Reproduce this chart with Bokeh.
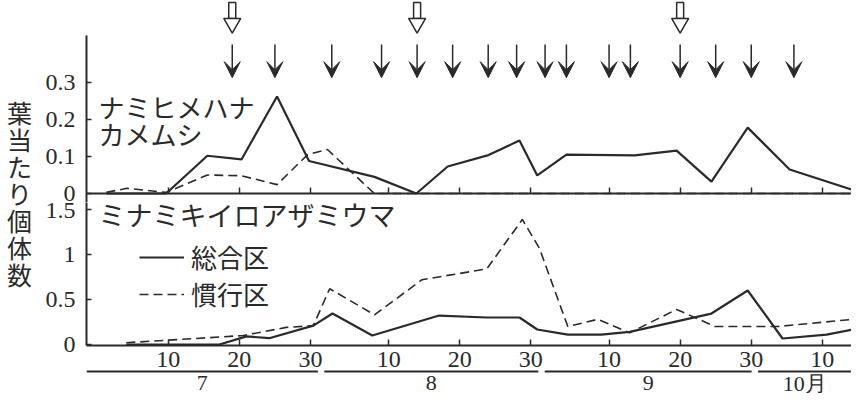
from bokeh.plotting import figure
from bokeh.layouts import column, row
from bokeh.models import (ColumnDataSource, Range1d, FixedTicker, Label, Arrow,
                          VeeHead, Legend, LegendItem)
from bokeh.core.properties import value
from bokeh.embed import file_html
from bokeh.resources import INLINE

# ---------------- data (x = day counted from 1 July: 1 Jul = 1, 1 Aug = 32, 1 Sep = 63, 1 Oct = 93)
tick_days = [10, 20, 30, 41, 51, 61, 72, 82, 92, 102]
tick_labels = ["10", "20", "30", "10", "20", "30", "10", "20", "30", "10"]
month_names = ["7", "8", "9", "10月"]
month_first_day = [1, 32, 63, 93]
month_lengths = [31, 31, 30, 31]

spray_days = [19, 25, 33, 40, 45, 50, 55, 59, 63, 66, 72, 75, 82, 87, 92, 98]   # filled arrows
release_days = [19, 45, 82]                                                      # open arrows

y_title = "葉当たり個体数"
top_title = ["ナミヒメハナ", "カメムシ"]
bottom_title = "ミナミキイロアザミウマ"
legend_labels = ["総合区", "慣行区"]

# ナミヒメハナカメムシ (top panel)
bug_ipm_day = [1.3, 9.7, 15.5, 20.3, 25.3, 29.8, 39.0, 44.9, 49.3, 54.9, 59.4, 61.9,
               66.0, 75.6, 81.5, 86.4, 91.5, 97.4, 107.0]
bug_ipm_val = [0.0, 0.0, 0.102, 0.092, 0.262, 0.088, 0.045, 0.0, 0.073, 0.103, 0.143, 0.049,
               0.105, 0.103, 0.116, 0.032, 0.178, 0.065, 0.005]
bug_conv_day = [1.3, 4.2, 9.7, 15.5, 20.3, 25.3, 29.6, 32.4, 35.2, 39.0, 107.0]
bug_conv_val = [0.003, 0.014, 0.003, 0.050, 0.048, 0.024, 0.105, 0.119, 0.068, 0.0, 0.0]

# ミナミキイロアザミウマ (bottom panel)
thr_ipm_day = [4.1, 17.2, 21.0, 24.2, 30.4, 33.1, 38.7, 48.1, 54.8, 59.4, 61.9, 66.2,
               70.9, 74.9, 86.4, 91.5, 96.4, 102.6, 106.3]
thr_ipm_val = [0.0, 0.0, 0.09, 0.07, 0.21, 0.344, 0.10, 0.322, 0.30, 0.30, 0.167, 0.11,
               0.11, 0.14, 0.344, 0.60, 0.067, 0.11, 0.167]
thr_conv_day = [4.1, 18.6, 20.5, 26.6, 30.4, 32.7, 39.0, 45.7, 54.8, 59.8, 62.2, 66.2,
                70.4, 74.9, 81.5, 86.9, 95.7, 106.3]
thr_conv_val = [0.02, 0.09, 0.10, 0.19, 0.21, 0.62, 0.33, 0.72, 0.84, 1.39, 1.07, 0.20,
                0.28, 0.13, 0.39, 0.20, 0.20, 0.28]

# ---------------- style
INK = "#2a2a2a"
NUM_FONT = "Liberation Serif"
JP_FONT = "Noto Sans CJK JP"
X_START, X_END = -1.5, 106.1
FRAME_W = 765
STRIP_W = 40
LEFT = 46
TOTAL_H = 395
DASH = "9 5"

x_range = Range1d(X_START, X_END)


def make_fig(frame_h, y_range, axes=True, frame_w=FRAME_W, left=LEFT, xr=None):
    kw = {}
    if not axes:
        kw = dict(x_axis_type=None, y_axis_type=None)
    p = figure(frame_width=frame_w, frame_height=frame_h, x_range=xr or x_range, y_range=y_range,
               output_backend="svg", toolbar_location=None,
               min_border_left=left, min_border_right=0, min_border_top=0, min_border_bottom=0,
               outline_line_color=None, background_fill_color="white",
               border_fill_color="white", **kw)
    p.grid.visible = False
    return p


def style_axes(p, yticks, show_xlabels):
    ax = p.xaxis[0]
    ax.ticker = FixedTicker(ticks=tick_days)
    ax.axis_line_color = INK
    ax.axis_line_width = 2
    ax.major_tick_line_color = INK
    ax.major_tick_line_width = 1.5
    ax.major_tick_in = 6
    ax.major_tick_out = 0
    ax.minor_tick_line_color = None
    if show_xlabels:
        ax.major_label_overrides = dict(zip(tick_days, tick_labels))
        ax.major_label_text_font = NUM_FONT
        ax.major_label_text_font_size = "24px"
        ax.major_label_text_color = INK
        ax.major_label_standoff = 6
    else:
        ax.fixed_location = 0
        ax.major_label_text_color = None
        ax.major_label_text_font_size = "1px"
        ax.major_label_standoff = 0
    ay = p.yaxis[0]
    ay.ticker = FixedTicker(ticks=yticks)
    ay.major_label_overrides = {0: "0"}
    ay.axis_line_color = INK
    ay.axis_line_width = 2
    ay.major_tick_line_color = INK
    ay.major_tick_line_width = 1.5
    ay.major_tick_in = 5
    ay.major_tick_out = 0
    ay.minor_tick_line_color = None
    ay.major_label_text_font = NUM_FONT
    ay.major_label_text_font_size = "24px"
    ay.major_label_text_color = INK
    ay.major_label_standoff = 11


def add_label(p, x, y, text, size):
    p.add_layout(Label(x=x, y=y, text=text, text_font=JP_FONT, text_font_size=size,
                       text_color=INK, text_align="left", text_baseline="middle"))


# ---------------- vertical y title strip (pixel coordinates from the top)
pl = make_fig(TOTAL_H, Range1d(TOTAL_H, 0), axes=False, frame_w=STRIP_W, left=0,
              xr=Range1d(0, STRIP_W))
chars = list(y_title)
pl.text(x=[19] * len(chars), y=[111 + 27 * i for i in range(len(chars))], text=chars,
        text_font=value(JP_FONT), text_font_size="25px", text_color=INK,
        text_align="center", text_baseline="middle")

# ---------------- arrow strip (open arrows)
pa = make_fig(35, Range1d(0, 35), axes=False)
pa.rect(x=release_days, y=25, width=7, height=16, width_units="screen", height_units="screen",
        fill_color="white", line_color=INK, line_width=1.5)
pa.scatter(x=release_days, y=12.2, marker="inverted_triangle", size=17,
           fill_color="white", line_color=INK, line_width=1.5)

# ---------------- top panel (frame reaches a little below zero so the "0" label is not cut)
pt = make_fig(167, Range1d(-0.0243, 0.427))
style_axes(pt, [0, 0.1, 0.2, 0.3], False)
pt.line(bug_conv_day, bug_conv_val, line_color=INK, line_width=1.6, line_dash=DASH)
pt.line(bug_ipm_day, bug_ipm_val, line_color=INK, line_width=2.2)
spray_src = ColumnDataSource(dict(x=spray_days, y0=[0.403] * len(spray_days),
                                  y1=[0.313] * len(spray_days)))
pt.add_layout(Arrow(x_start="x", y_start="y0", x_end="x", y_end="y1", source=spray_src,
                    line_color=INK, line_width=1.5,
                    end=VeeHead(size=16, fill_color=INK, line_color=INK, line_width=1)))
add_label(pt, 0.2, 0.235, top_title[0], "26px")
add_label(pt, 0.2, 0.162, top_title[1], "26px")

# ---------------- bottom panel
pb = make_fig(143, Range1d(-0.011, 1.578))
style_axes(pb, [0, 0.5, 1.0, 1.5], True)
r_conv = pb.line(thr_conv_day, thr_conv_val, line_color=INK, line_width=1.6, line_dash=DASH)
r_ipm = pb.line(thr_ipm_day, thr_ipm_val, line_color=INK, line_width=2.2)
add_label(pb, 0.2, 1.444, bottom_title, "27px")
legend = Legend(items=[LegendItem(label=legend_labels[0], renderers=[r_ipm]),
                       LegendItem(label=legend_labels[1], renderers=[r_conv])],
                location=(53, 33), border_line_color=None, background_fill_alpha=0,
                padding=0, margin=0, spacing=0, glyph_width=45, glyph_height=30,
                label_height=30, label_standoff=7, label_text_font=JP_FONT,
                label_text_font_size="26px", label_text_color=INK)
pb.add_layout(legend)

# ---------------- month strip
pm = make_fig(24, Range1d(0, 24), axes=False)
seg_x0 = [X_START] + [f - 0.5 + 0.45 for f in month_first_day[1:]]
seg_x1 = [f + n - 0.5 - 0.45 for f, n in zip(month_first_day, month_lengths)]
pm.segment(x0=seg_x0, y0=22, x1=seg_x1, y1=22, line_color=INK, line_width=2)
month_x = [(max(a, X_START) + min(b, X_END)) / 2 for a, b in zip(seg_x0, seg_x1)]
pm.text(x=month_x, y=[10.5] * len(month_x), text=month_names, text_font=value(NUM_FONT),
        text_font_size="22px", text_color=INK, text_align="center",
        text_baseline="middle")

layout = row(pl, column(pa, pt, pb, pm, spacing=0), spacing=0)
open("out.html", "w").write(file_html(layout, INLINE))
